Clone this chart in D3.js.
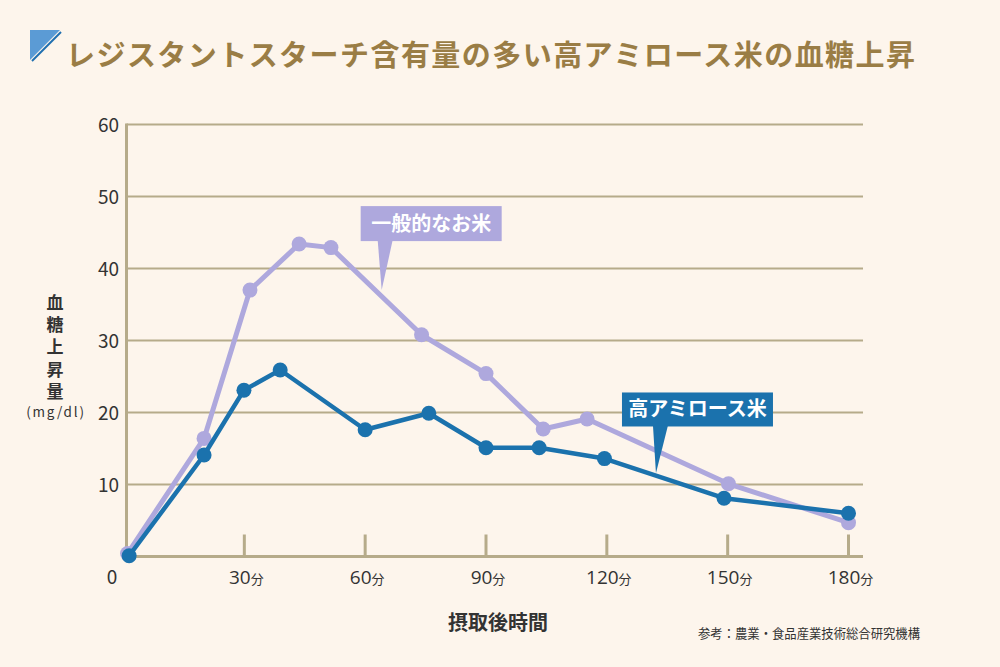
<!DOCTYPE html>
<html><head><meta charset="utf-8">
<script src="https://cdn.jsdelivr.net/npm/d3@7"></script>
<style>
html,body{margin:0;padding:0;background:#fdf5ec;}
svg{display:block;}
text{font-family:"Noto Sans CJK JP","Noto Sans",sans-serif;}
</style></head>
<body>
<svg id="c" width="1000" height="667"></svg>
<script>
const title = "レジスタントスターチ含有量の多い高アミロース米の血糖上昇";
const yTicks = [10, 20, 30, 40, 50, 60];
const xTicks = [30, 60, 90, 120, 150, 180];
const xTickSuffix = "分";
const yLabel = "血糖上昇量";
const yUnit = "(mg/dl)";
const xLabel = "摂取後時間";
const source = "参考：農業・食品産業技術総合研究機構";

const seriesNames = ["一般的なお米", "高アミロース米"];
const normalX = [1, 20, 31.4, 43.6, 51.5, 74, 90, 104.2, 115.1, 150.2, 180];
const normalY = [0.4, 16.4, 37.0, 43.4, 42.9, 30.8, 25.4, 17.7, 19.1, 10.1, 4.7];
const highX = [1.4, 20, 29.9, 38.9, 60, 75.8, 90, 103.2, 119.4, 149.1, 180];
const highY = [0.1, 14.1, 23.1, 25.9, 17.6, 19.9, 15.1, 15.1, 13.6, 8.1, 6.0];
// callout tips in data units
const calloutTips = [[64.1, 37.0], [132.2, 11.6]];

const colors = ["#aea8dd", "#1b72ad"];
const gridColor = "#b6ab8a";
const textColor = "#333333";

const svg = d3.select("#c");
svg.append("rect").attr("width", 1000).attr("height", 667).attr("fill", "#fdf5ec");

const x = d3.scaleLinear().domain([0, 180]).range([123.5, 848.5]);
const y = d3.scaleLinear().domain([0, 60]).range([556.5, 124.5]);
const plotRight = 863;
const axisX = x(0) + 3;

// title icon
const icon = svg.append("g");
icon.append("path").attr("d", "M30,30 L60,30 L30,60 Z").attr("fill", "#5b9bd5");
icon.append("line").attr("x1", 61).attr("y1", 32).attr("x2", 32).attr("y2", 61)
  .attr("stroke", "#1f6fb0").attr("stroke-width", 2);

svg.append("text").attr("x", 66).attr("y", 66)
  .attr("font-size", 29).attr("font-weight", 700).attr("fill", "#9a7d45")
  .attr("textLength", 849).attr("lengthAdjust", "spacing")
  .text(title);

// gridlines
svg.append("g").selectAll("line").data(yTicks).join("line")
  .attr("x1", axisX).attr("x2", plotRight)
  .attr("y1", d => y(d)).attr("y2", d => y(d))
  .attr("stroke", gridColor).attr("stroke-width", 2);

// axes lines
svg.append("line").attr("x1", axisX).attr("x2", axisX).attr("y1", y(60) - 1).attr("y2", y(0) + 1.5)
  .attr("stroke", gridColor).attr("stroke-width", 3);
svg.append("line").attr("x1", axisX - 1.5).attr("x2", plotRight).attr("y1", y(0)).attr("y2", y(0))
  .attr("stroke", gridColor).attr("stroke-width", 3);

// x ticks
svg.append("g").selectAll("line").data(xTicks).join("line")
  .attr("x1", d => x(d)).attr("x2", d => x(d))
  .attr("y1", y(0)).attr("y2", y(0) - 22)
  .attr("stroke", gridColor).attr("stroke-width", 3);

// y tick labels
svg.append("g").selectAll("text").data(yTicks).join("text")
  .attr("x", 119).attr("y", d => y(d) + 7)
  .attr("text-anchor", "end").attr("font-size", 19)
  .attr("font-family", "'Open Sans', sans-serif").attr("fill", textColor)
  .text(d => d);
svg.append("text").attr("x", 112).attr("y", 584).attr("text-anchor", "middle")
  .attr("font-size", 19).attr("font-family", "'Open Sans', sans-serif").attr("fill", textColor).text("0");

// x tick labels
const xl = svg.append("g").selectAll("text").data(xTicks).join("text")
  .attr("x", d => x(d) + 2).attr("y", 584).attr("text-anchor", "middle").attr("fill", textColor);
xl.append("tspan").attr("font-size", 19).attr("font-family", "'Open Sans', sans-serif").text(d => d);
xl.append("tspan").attr("font-size", 13).text(xTickSuffix);

// y label (vertical)
svg.append("text").attr("x", 55).attr("y", 294)
  .style("writing-mode", "vertical-rl")
  .attr("font-size", 17).attr("font-weight", 700).attr("fill", textColor)
  .attr("letter-spacing", 5.2)
  .text(yLabel);
svg.append("text").attr("x", 56).attr("y", 417).attr("text-anchor", "middle")
  .attr("font-size", 13.5).attr("font-family", "'Open Sans', sans-serif")
  .attr("letter-spacing", 1.8).attr("fill", textColor).text(yUnit);

// x label
svg.append("text").attr("x", 498).attr("y", 630).attr("text-anchor", "middle")
  .attr("font-size", 20).attr("font-weight", 700).attr("fill", textColor).text(xLabel);

// source
svg.append("text").attr("x", 698).attr("y", 638)
  .attr("font-size", 13).attr("fill", textColor)
  .attr("textLength", 222).attr("lengthAdjust", "spacingAndGlyphs").text(source);

// series
const series = [
  {xs: normalX, ys: normalY, color: colors[0], w: 5, r: 7.5},
  {xs: highX, ys: highY, color: colors[1], w: 4.5, r: 7.5}
];
const line = d3.line().x(d => x(d[0])).y(d => y(d[1]));
series.forEach(s => {
  const pts = s.xs.map((v, i) => [v, s.ys[i]]);
  const g = svg.append("g");
  g.append("path").attr("d", line(pts)).attr("fill", "none")
    .attr("stroke", s.color).attr("stroke-width", s.w).attr("stroke-linejoin", "round");
  g.selectAll("circle").data(pts).join("circle")
    .attr("cx", d => x(d[0])).attr("cy", d => y(d[1])).attr("r", s.r).attr("fill", s.color);
});

// callouts
const callouts = [
  {tip: calloutTips[0], label: seriesNames[0], color: colors[0], dx: -21, dy: -84, w: 141, h: 35, b1: -4, b2: 11},
  {tip: calloutTips[1], label: seriesNames[1], color: colors[1], dx: -34, dy: -80.5, w: 151, h: 34, b1: -3, b2: 12}
];
callouts.forEach(c => {
  const tx = x(c.tip[0]), ty = y(c.tip[1]);
  const bx = tx + c.dx, by = ty + c.dy;
  const g = svg.append("g");
  g.append("rect").attr("x", bx).attr("y", by).attr("width", c.w).attr("height", c.h).attr("fill", c.color);
  g.append("path").attr("d", `M${tx + c.b1},${by + c.h - 1} L${tx + c.b2},${by + c.h - 1} L${tx},${ty} Z`).attr("fill", c.color);
  g.append("text").attr("x", bx + c.w / 2).attr("y", by + c.h / 2 + 7)
    .attr("text-anchor", "middle").attr("font-size", 20).attr("font-weight", 700).attr("fill", "#ffffff")
    .text(c.label);
});
</script>
</body></html>
